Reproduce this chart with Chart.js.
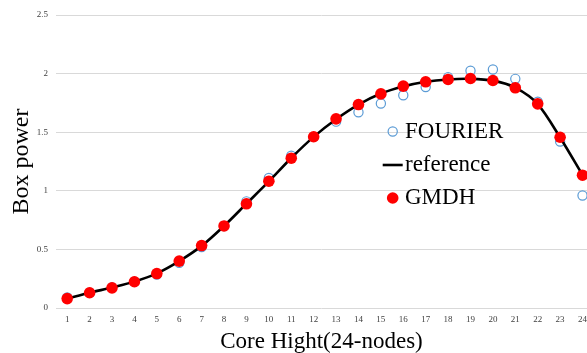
<!DOCTYPE html>
<html>
<head>
<meta charset="utf-8">
<script src="https://cdn.jsdelivr.net/npm/chart.js@4/dist/chart.umd.min.js"></script>
<style>
  html, body { margin: 0; padding: 0; background: #fff; overflow: hidden; }
  #wrap { width: 587px; height: 353px; overflow: hidden; position: relative; }
  canvas { display: block; }
</style>
</head>
<body>
<div id="wrap"><canvas id="c" width="587" height="353"></canvas></div>
<script>
const categories = [1,2,3,4,5,6,7,8,9,10,11,12,13,14,15,16,17,18,19,20,21,22,23,24];
const fourier = [0.09,0.13,0.175,0.225,0.285,0.385,0.52,0.70,0.91,1.11,1.30,1.46,1.59,1.67,1.745,1.815,1.885,1.97,2.025,2.035,1.955,1.76,1.42,0.96];
const reference = [0.08,0.13,0.175,0.225,0.295,0.40,0.53,0.70,0.89,1.08,1.28,1.46,1.61,1.735,1.83,1.89,1.93,1.95,1.955,1.94,1.88,1.74,1.455,1.135];
const gmdh = [0.08,0.13,0.172,0.224,0.294,0.40,0.533,0.70,0.889,1.082,1.278,1.461,1.614,1.736,1.827,1.893,1.93,1.95,1.958,1.941,1.879,1.742,1.457,1.133];
const yTicks = [0, 0.5, 1, 1.5, 2, 2.5];
const seriesNames = ['FOURIER', 'reference', 'GMDH'];

const pts = arr => arr.map((v, i) => ({ x: categories[i], y: v }));
const serif = '"Liberation Serif", "Times New Roman", serif';

const legendPlugin = {
  id: 'insideLegend',
  afterDatasetsDraw(chart) {
    const ctx = chart.ctx;
    const x0 = 392.7, rows = [131.5, 165, 198];
    ctx.save();
    ctx.font = '23px ' + serif;
    ctx.textBaseline = 'middle';
    ctx.textAlign = 'left';
    chart.data.datasets.forEach((ds, i) => {
      const y = rows[i];
      ctx.beginPath();
      if (ds.showLine) {
        ctx.strokeStyle = ds.borderColor;
        ctx.lineWidth = ds.borderWidth;
        ctx.moveTo(x0 - 10, y);
        ctx.lineTo(x0 + 10, y);
        ctx.stroke();
      } else {
        ctx.arc(x0, y, ds.pointRadius, 0, Math.PI * 2);
        if (ds.pointBackgroundColor !== 'rgba(0,0,0,0)') {
          ctx.fillStyle = ds.pointBackgroundColor;
          ctx.fill();
        }
        if (ds.pointBorderWidth > 0) {
          ctx.strokeStyle = ds.pointBorderColor;
          ctx.lineWidth = ds.pointBorderWidth;
          ctx.stroke();
        }
      }
      ctx.fillStyle = '#000';
      ctx.fillText(ds.label, 405, y);
    });
    ctx.restore();
  }
};

new Chart(document.getElementById('c'), {
  type: 'scatter',
  data: {
    datasets: [
      {
        label: seriesNames[0],
        data: pts(fourier),
        showLine: false,
        pointRadius: 4.6,
        pointBorderWidth: 1.2,
        pointBorderColor: '#5B9BD5',
        pointBackgroundColor: 'rgba(0,0,0,0)',
        borderColor: '#5B9BD5',
        backgroundColor: 'rgba(0,0,0,0)',
        order: 2,
        clip: false
      },
      {
        label: seriesNames[1],
        data: pts(reference),
        showLine: true,
        borderColor: '#000000',
        borderWidth: 2.6,
        pointRadius: 0,
        tension: 0.3,
        order: 1,
        clip: false
      },
      {
        label: seriesNames[2],
        data: pts(gmdh),
        showLine: false,
        pointRadius: 5.8,
        pointBorderWidth: 0,
        pointBackgroundColor: '#FF0000',
        pointBorderColor: '#FF0000',
        backgroundColor: '#FF0000',
        borderColor: '#FF0000',
        order: 0,
        clip: false
      }
    ]
  },
  options: {
    responsive: false,
    animation: false,
    devicePixelRatio: 1,
    layout: { autoPadding: false, padding: { top: 15, right: 0, left: 0, bottom: 0 } },
    plugins: { legend: { display: false }, tooltip: { enabled: false } },
    scales: {
      x: {
        type: 'linear',
        min: 0.5,
        max: 24.2,
        afterBuildTicks: s => { s.ticks = categories.map(v => ({ value: v })); },
        afterFit: s => { s.height = 45; s.paddingLeft = 0; s.paddingRight = 0; },
        grid: { display: false, drawTicks: false },
        border: { display: false },
        ticks: {
          padding: 6,
          color: '#404040',
          font: { family: serif, size: 9 },
          callback: v => String(v),
          maxRotation: 0,
          autoSkip: false
        },
        title: {
          display: true,
          text: 'Core Hight(24-nodes)',
          color: '#000',
          font: { family: serif, size: 23, lineHeight: 1 },
          padding: { top: 0, bottom: 0 }
        }
      },
      y: {
        min: 0,
        max: 2.5,
        afterBuildTicks: s => { s.ticks = yTicks.map(v => ({ value: v })); },
        afterFit: s => { s.width = 56; s.paddingTop = 0; s.paddingBottom = 0; },
        grid: { color: '#d9d9d9', lineWidth: 1, drawTicks: false },
        border: { display: false },
        ticks: {
          padding: 8,
          color: '#404040',
          font: { family: serif, size: 9 },
          callback: v => String(v)
        },
        title: {
          display: true,
          text: 'Box power',
          color: '#000',
          font: { family: serif, size: 24, lineHeight: 1.2 },
          padding: { top: 7, bottom: 0 }
        }
      }
    }
  },
  plugins: [legendPlugin]
});
</script>
</body>
</html>
